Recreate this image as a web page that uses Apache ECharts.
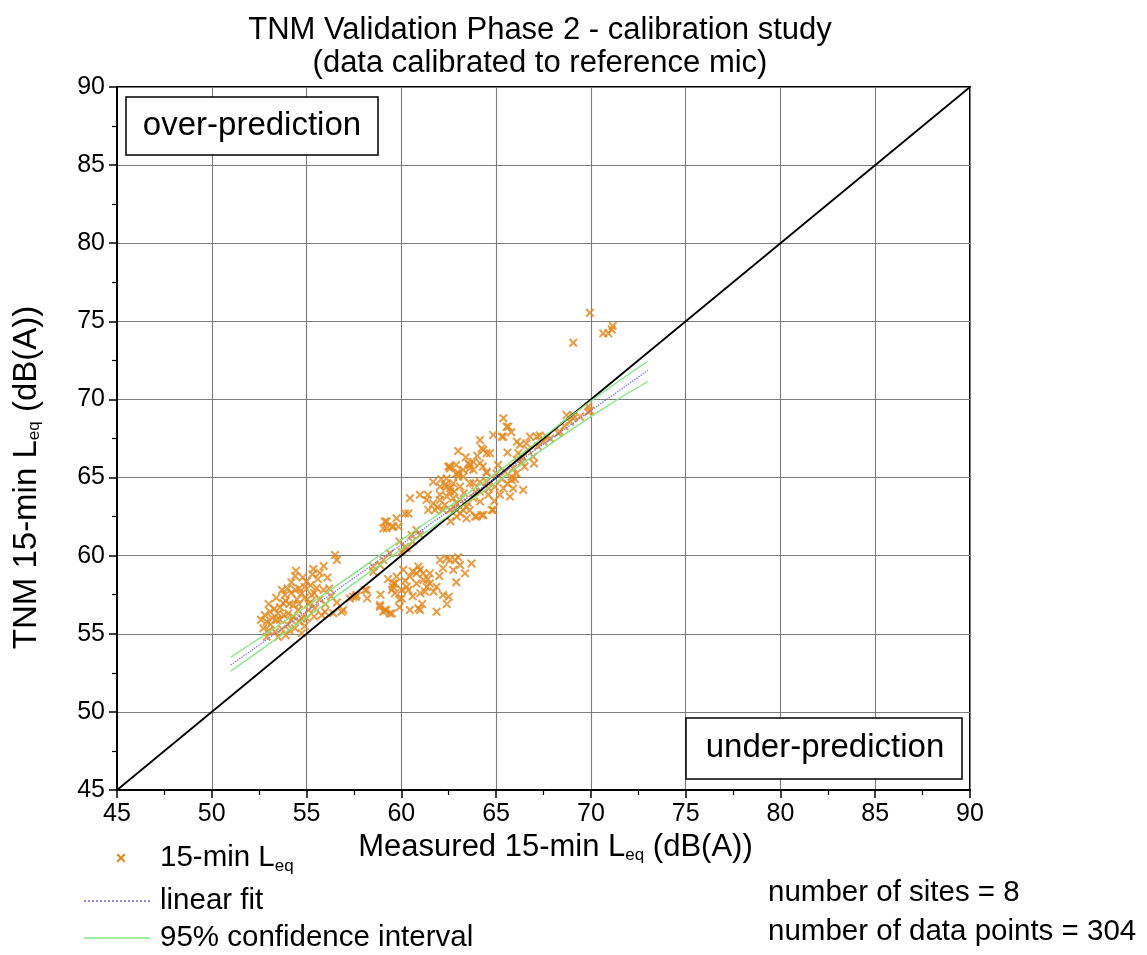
<!DOCTYPE html>
<html>
<head>
<meta charset="utf-8">
<script src="https://cdn.jsdelivr.net/npm/echarts@6/dist/echarts.min.js"></script>
<style>
html,body{margin:0;padding:0;background:#fff;}
#chart{width:1147px;height:955px;}
</style>
</head>
<body>
<div id="chart"></div>
<script>
// ---- data ----
const xTicks = [45, 50, 55, 60, 65, 70, 75, 80, 85, 90];
const yTicks = [45, 50, 55, 60, 65, 70, 75, 80, 85, 90];

// measured (x) vs TNM predicted (y), 15-min Leq, grouped by visual cluster
const clusterA = [[54.44,59.04],[55.36,59.15],[55.9,59.34],[56.6,59.72],[55.0,58.34],[54.9,58.0],[55.53,57.93],[55.9,57.8],[54.4,57.8],[53.86,57.48],[54.2,57.6],[54.74,57.58],[55.27,57.48],[53.77,56.95],[54.3,56.84],[53.07,56.41],[53.5,56.3],[54.04,56.3],[54.56,56.52],[55.1,56.52],[55.45,56.63],[55.97,56.41],[56.41,56.31],[56.85,56.41],[52.9,55.77],[53.42,55.88],[54.2,55.88],[54.74,55.99],[52.72,55.35],[53.33,55.13],[52.9,54.81],[54.39,55.35],[54.74,55.03],[53.2,56.0],[53.6,56.7],[53.9,57.1],[54.1,56.9],[54.5,57.2],[54.6,57.9],[54.8,58.6],[55.2,58.1],[55.4,57.6],[55.7,57.2],[55.1,56.9],[54.3,56.1],[54.0,55.6],[53.7,55.3],[53.1,55.6],[52.8,56.2],[53.4,57.3],[54.2,58.3],[55.6,58.5],[56.2,57.9],[56.0,56.9],[55.8,56.2],[54.9,55.5],[54.6,55.8],[53.9,54.9],[53.5,54.8],[56.5,60.04],[57.6,57.37],[57.29,57.26],[56.94,56.52],[57.46,57.37],[56.3,57.4],[53.0,56.9],[53.3,56.6],[53.8,56.2],[54.0,57.9],[54.6,56.9],[54.9,57.3],[55.2,57.0],[55.0,56.0],[55.4,56.1],[53.6,55.9],[52.6,55.9],[53.0,55.2],[54.4,58.7],[55.7,58.9],[56.1,58.6],[55.3,58.8],[56.6,57.0],[53.7,57.8],[54.1,55.2]];
const clusterB = [[58.08,57.8],[57.64,57.48],[58.87,56.84],[59.13,56.52],[59.5,56.3],[59.2,56.52],[58.2,57.27],[59.55,58.0],[59.67,57.6],[62.04,59.72],[62.4,59.82],[62.83,59.72],[63.7,59.5],[63.36,58.87],[62.2,59.2],[62.74,59.08],[60.9,59.3],[60.8,58.87],[61.16,58.87],[61.5,58.87],[60.45,58.66],[59.75,58.66],[59.67,58.23],[59.5,57.8],[60.02,57.8],[60.37,57.8],[61.34,58.0],[61.86,58.0],[61.7,57.7],[62.5,57.37],[60.02,57.27],[60.45,56.52],[60.9,56.63],[61.86,56.41],[60.98,59.08],[61.16,58.44],[61.5,58.22],[59.58,58.22],[60.28,58.0],[60.8,58.22],[61.25,57.7],[62.2,57.48],[60.98,56.52],[59.05,56.41],[59.4,56.3],[58.87,56.73],[62.57,59.72],[63.1,59.4],[60.6,59.0],[60.2,58.4],[59.9,57.2],[61.0,57.6],[62.9,58.3],[63.0,59.9],[58.9,57.5],[60.6,57.4],[61.4,58.5],[62.0,58.7],[60.1,59.1],[59.3,58.5],[62.4,56.9],[61.1,56.9],[59.9,56.7]];
const clusterC = [[59.4,60.15],[60.2,60.57],[58.87,59.4],[58.52,58.97],[59.13,62.18],[59.5,61.86],[59.75,62.39],[59.84,61.86],[59.22,61.75],[60.37,62.7],[60.8,61.64],[60.54,61.32],[60.98,61.32],[60.28,60.47],[60.02,60.25],[59.05,59.72],[58.52,59.3],[58.17,57.8],[60.19,62.7],[59.23,62.18],[59.05,61.75],[59.58,61.86],[61.42,62.93],[61.78,62.93],[60.46,63.68],[60.98,63.9],[61.33,63.57],[59.9,60.9],[60.6,60.9]];
const clusterD = [[64.15,67.4],[64.33,66.77],[64.5,66.56],[64.15,65.92],[63.62,65.8],[63.8,65.5],[63.27,65.5],[62.57,65.7],[63.0,65.3],[64.5,65.3],[61.68,64.72],[62.39,64.94],[62.3,64.52],[62.74,64.63],[63.1,64.42],[63.62,64.63],[62.57,64.1],[62.04,63.9],[62.74,63.68],[63.1,63.57],[62.3,63.25],[62.83,63.03],[63.44,63.14],[62.92,62.5],[63.44,62.39],[63.89,62.5],[64.24,62.6],[62.04,64.42],[62.57,64.31],[62.4,63.78],[61.68,63.35],[62.04,63.57],[62.92,63.35],[62.57,62.92],[63.1,62.7],[63.97,62.5],[64.85,62.92],[62.48,65.7],[62.92,65.26],[63.27,65.06],[63.54,65.9],[63.8,66.0],[64.68,66.56],[64.24,66.87],[64.85,67.73],[63.6,65.58],[64.3,65.7],[64.5,65.36],[62.56,65.58],[63.0,65.06],[62.4,64.42],[63.8,64.63],[64.15,64.72],[64.5,64.72],[64.15,64.1],[64.59,63.9],[64.15,63.46],[63.8,63.68],[64.77,62.92],[64.33,62.6],[63.27,62.92],[62.2,62.92],[62.8,64.1],[63.3,64.0],[63.5,63.4],[63.9,64.1],[62.1,64.9],[62.9,65.8],[63.4,66.3],[64.0,66.4],[63.0,66.7],[61.9,63.1],[61.4,63.9],[63.6,62.9],[64.6,64.3],[64.9,63.5],[62.6,62.2]];
const clusterE = [[65.38,68.8],[65.64,68.26],[65.3,67.62],[66.1,67.29],[66.26,67.1],[66.79,67.62],[67.14,67.62],[67.5,67.29],[67.85,67.5],[66.17,66.56],[66.7,66.77],[66.96,66.34],[66.08,66.13],[66.35,66.0],[65.03,65.26],[65.47,65.37],[65.82,65.06],[66.08,65.26],[64.94,64.42],[65.38,64.31],[65.82,64.85],[66.43,64.2],[65.2,63.9],[65.73,63.78],[65.38,67.62],[65.56,68.26],[67.3,67.7],[67.67,67.6],[65.9,65.6],[66.5,65.7],[65.6,64.6],[66.0,64.9],[65.1,65.8],[65.6,66.6],[66.4,66.3],[65.8,67.9],[66.6,67.2],[67.2,67.0],[65.3,64.9],[65.9,64.3],[67.0,65.9]];
const clusterF = [[68.28,67.83],[68.37,67.93],[68.9,68.57],[69.07,69.0],[69.43,68.9],[69.87,69.2],[69.87,69.55],[68.72,69.0],[69.07,68.8],[69.95,69.3],[68.6,68.3]];
const outliers = [[69.07,73.63],[69.95,75.55],[70.65,74.23],[70.92,74.23],[71.1,74.48],[71.15,74.7]];

// perfect-agreement diagonal
const diagonal = [[45,45],[90,90]];
// linear fit and 95% confidence interval
const fitX   = [51, 73];
const fitY   = [53.0, 71.85];
const ciX    = [51, 55, 60, 65, 70, 73];
const ciUpper = [53.5, 56.75, 61.0, 65.3, 69.9, 72.45];
const ciLower = [52.6, 56.05, 60.4, 64.7, 68.9, 71.15];

const titleText = 'TNM Validation Phase 2 - calibration study\n(data calibrated to reference mic)';
const legendNames = ['15-min L{sub|eq}', 'linear fit', '95% confidence interval'];
const notes = ['number of sites = 8', 'number of data points = 304'];

// ---- chart ----
const FONT = 'Liberation Sans, Arial, sans-serif';
const ORANGE = '#e3861c';
const GREEN = '#7fe87f';
const BLUE = '#6a6aff';
const xSymbol = 'path://M0,1.6L1.6,0L5,3.4L8.4,0L10,1.6L6.6,5L10,8.4L8.4,10L5,6.6L1.6,10L0,8.4L3.4,5Z';
const xShape = [[0,1.6],[1.6,0],[5,3.4],[8.4,0],[10,1.6],[6.6,5],[10,8.4],[8.4,10],[5,6.6],[1.6,10],[0,8.4],[3.4,5]];

const scatterData = [].concat(clusterA, clusterB, clusterC, clusterD, clusterE, clusterF, outliers);
const zip = (xs, ys) => xs.map((x, i) => [x, ys[i]]);

const subRich = {
  sub: { fontSize: 17, fontFamily: FONT, color: '#000', padding: [15, 0, 0, 0] }
};

const chart = echarts.init(document.getElementById('chart'), null, { renderer: 'canvas' });
const axisCommon = {
  type: 'value', min: 45, max: 90, interval: 5,
  axisLine: { show: true, onZero: false, lineStyle: { color: '#000', width: 2 } },
  axisTick: { show: true, inside: false, length: 8, lineStyle: { color: '#000', width: 1.5 } },
  minorTick: { show: true, splitNumber: 2, length: 5, lineStyle: { color: '#000', width: 1.2 } },
  splitLine: { show: true, lineStyle: { color: '#7c7c7c', width: 1.1 } },
  axisLabel: { color: '#000', fontSize: 25, fontFamily: FONT }
};

chart.setOption({
  animation: false,
  backgroundColor: '#fff',
  title: {
    text: titleText,
    left: 535, top: 9, textAlign: 'center',
    textStyle: { fontSize: 31, fontWeight: 'normal', color: '#000', fontFamily: FONT, lineHeight: 33 }
  },
  grid: { left: 117, right: 177, top: 87, bottom: 165, show: true, borderColor: '#000', borderWidth: 2, backgroundColor: '#fff' },
  xAxis: Object.assign({}, axisCommon, {
    axisLabel: Object.assign({}, axisCommon.axisLabel, { margin: 12 }),
    name: 'Measured 15-min L{sub|eq} (dB(A))',
    nameLocation: 'middle', nameGap: 33,
    nameTextStyle: { fontSize: 31, color: '#000', fontFamily: FONT, padding: [0, 0, 0, 24], rich: subRich }
  }),
  yAxis: Object.assign({}, axisCommon, {
    axisLabel: Object.assign({}, axisCommon.axisLabel, { margin: 12 }),
    name: 'TNM 15-min L{sub|eq} (dB(A))',
    nameLocation: 'middle', nameGap: 74,
    nameTextStyle: { fontSize: 33, color: '#000', fontFamily: FONT, padding: [0, 78, 0, 0], rich: subRich }
  }),
  series: [
    {
      name: '15-min Leq', type: 'scatter', data: scatterData,
      symbol: xSymbol, symbolSize: 9,
      itemStyle: { color: ORANGE }, z: 3
    },
    {
      name: 'y = x', type: 'line', data: diagonal, symbol: 'none',
      lineStyle: { color: '#000', width: 1.8 }, z: 4
    },
    {
      name: 'linear fit', type: 'line', data: zip(fitX, fitY), symbol: 'none',
      lineStyle: { color: BLUE, width: 1.3, type: 'dotted' }, z: 5
    },
    {
      name: '95% confidence interval', type: 'line', data: zip(ciX, ciUpper), symbol: 'none', smooth: true,
      lineStyle: { color: GREEN, width: 1.3 }, z: 5
    },
    {
      name: '95% confidence interval (lower)', type: 'line', data: zip(ciX, ciLower), symbol: 'none', smooth: true,
      lineStyle: { color: GREEN, width: 1.3 }, z: 5
    }
  ],
  graphic: [
    // annotation boxes
    { type: 'rect', z: 10, shape: { x: 126, y: 97, width: 252, height: 58 }, style: { fill: '#fff', stroke: '#000', lineWidth: 1.5 } },
    { type: 'text', x: 252, y: 126, z: 11, style: { text: 'over-prediction', fontSize: 33, fontFamily: FONT, fill: '#000', align: 'center', verticalAlign: 'middle' } },
    { type: 'rect', z: 10, shape: { x: 686, y: 718, width: 276, height: 61 }, style: { fill: '#fff', stroke: '#000', lineWidth: 1.5 } },
    { type: 'text', x: 825, y: 748, z: 11, style: { text: 'under-prediction', fontSize: 33, fontFamily: FONT, fill: '#000', align: 'center', verticalAlign: 'middle' } },
    // legend
    { type: 'polygon', z: 11, x: 116.5, y: 853.5, scaleX: 0.9, scaleY: 0.9, shape: { points: xShape }, style: { fill: ORANGE } },
    { type: 'text', x: 160, y: 858, z: 11, style: { text: legendNames[0], fontSize: 29.5, fontFamily: FONT, fill: '#000', verticalAlign: 'middle', rich: { sub: { fontSize: 17, fontFamily: FONT, fill: '#000', padding: [17, 0, 0, 0] } } } },
    { type: 'line', z: 11, shape: { x1: 84, y1: 901, x2: 150, y2: 901 }, style: { stroke: BLUE, lineWidth: 1.3, lineDash: [2, 2] } },
    { type: 'text', x: 160, y: 901, z: 11, style: { text: legendNames[1], fontSize: 29.5, fontFamily: FONT, fill: '#000', verticalAlign: 'middle' } },
    { type: 'line', z: 11, shape: { x1: 84, y1: 938, x2: 150, y2: 938 }, style: { stroke: GREEN, lineWidth: 1.5 } },
    { type: 'text', x: 160, y: 938, z: 11, style: { text: legendNames[2], fontSize: 29.5, fontFamily: FONT, fill: '#000', verticalAlign: 'middle' } },
    // notes
    { type: 'text', x: 768, y: 893, z: 11, style: { text: notes[0], fontSize: 29.5, fontFamily: FONT, fill: '#000', verticalAlign: 'middle' } },
    { type: 'text', x: 768, y: 932, z: 11, style: { text: notes[1], fontSize: 29.5, fontFamily: FONT, fill: '#000', verticalAlign: 'middle' } }
  ]
});
</script>
</body>
</html>
